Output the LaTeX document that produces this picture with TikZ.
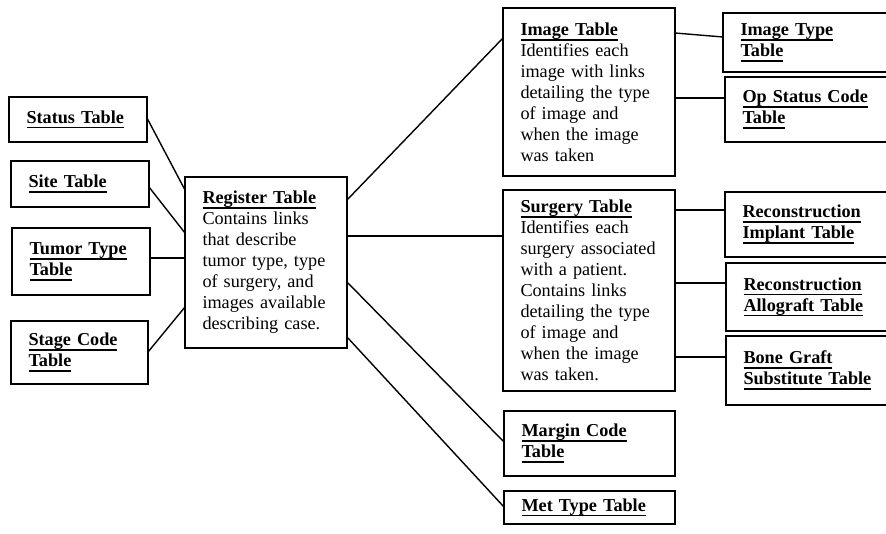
\documentclass[tikz,border=0pt]{standalone}
\usepackage{fontspec}
\setmainfont{Liberation Serif}
\newsavebox\ttlbox
\newcommand{\ttl}[1]{\sbox\ttlbox{\bfseries #1}\leavevmode\rlap{\rule[-5.3pt]{\wd\ttlbox}{1.7pt}}\usebox\ttlbox}
\begin{document}
\begin{tikzpicture}[x=1pt,y=-1pt,
  tbl/.style n args={3}{draw, line width=1.8pt, rectangle, outer sep=0pt,
    inner xsep=17.5pt, inner ysep=0pt, anchor=north west,
    minimum width=#1, minimum height=#2, text width=#3, align=left,
    font=\fontsize{18.2}{21}\selectfont},
  link/.style={line width=1.4pt}]
\clip (0,0) rectangle (886,534);
% left column
\node[tbl={138pt}{45pt}{103pt}] (status) at (9,97) {\ttl{Status Table}};
\node[tbl={138pt}{46pt}{103pt}] (site) at (11,161) {\ttl{Site Table}};
\node[tbl={138pt}{67pt}{103pt}] (tumor) at (12,228) {\ttl{Tumor Type}\\\ttl{Table}};
\node[tbl={137pt}{63pt}{102pt}] (stage) at (11,321) {\ttl{Stage Code}\\\ttl{Table}};
% register
\node[tbl={162pt}{171pt}{127pt}] (reg) at (185,177) {\ttl{Register Table}\\Contains links\\that describe\\tumor type, type\\of surgery, and\\images available\\describing case.};
% middle column
\node[tbl={172pt}{168pt}{137pt}] (img) at (503,8) {\ttl{Image Table}\\Identifies each\\image with links\\detailing the type\\of image and\\when the image\\was taken};
\node[tbl={172pt}{201pt}{137pt}] (surg) at (503,190) {\ttl{Surgery Table}\\Identifies each\\surgery associated\\with a patient.\\Contains links\\detailing the type\\of image and\\when the image\\was taken.};
\node[tbl={171pt}{65pt}{136pt}] (margin) at (504,411) {\ttl{Margin Code}\\\ttl{Table}};
\node[tbl={171pt}{33pt}{136pt}] (met) at (504,491) {\ttl{Met Type Table}};
% right column
\node[tbl={180pt}{59pt}{145pt}] (imgtype) at (723,13) {\ttl{Image Type}\\\ttl{Table}};
\node[tbl={180pt}{65pt}{145pt}] (opstat) at (725,77) {\ttl{Op Status Code}\\\ttl{Table}};
\node[tbl={180pt}{65pt}{145pt}] (recimp) at (725,192) {\ttl{Reconstruction}\\\ttl{Implant Table}};
\node[tbl={180pt}{68pt}{145pt}] (recallo) at (726,263) {\ttl{Reconstruction}\\\ttl{Allograft Table}};
\node[tbl={180pt}{69pt}{145pt}] (bone) at (726,336) {\ttl{Bone Graft}\\\ttl{Substitute Table}};
% connectors left
\draw[link] ([yshift=1.5pt]status.east) -- ([yshift=72.5pt]reg.west);
\draw[link] ([yshift=-3pt]site.east) -- ([yshift=29.5pt]reg.west);
\draw[link] ([yshift=3.5pt]tumor.east) -- ([yshift=4.5pt]reg.west);
\draw[link] ([yshift=0.5pt]stage.east) -- ([yshift=-44.5pt]reg.west);
% connectors register right
\draw[link] ([yshift=62.5pt]reg.east) -- ([yshift=54pt]img.west);
\draw[link] ([yshift=26.5pt]reg.east) -- ([yshift=54.5pt]surg.west);
\draw[link] ([yshift=-19.5pt]reg.east) -- ([yshift=1.5pt]margin.west);
\draw[link] ([yshift=-74.5pt]reg.east) -- ([yshift=0.5pt]met.west);
% connectors image/surgery
\draw[link] ([yshift=59pt]img.east) -- ([yshift=5.5pt]imgtype.west);
\draw[link] ([yshift=-6pt]img.east) -- ([yshift=11.5pt]opstat.west);
\draw[link] ([yshift=80.5pt]surg.east) -- ([yshift=14.5pt]recimp.west);
\draw[link] ([yshift=7.5pt]surg.east) -- ([yshift=14pt]recallo.west);
\draw[link] ([yshift=-66.5pt]surg.east) -- ([yshift=13.5pt]bone.west);
\end{tikzpicture}
\end{document}
